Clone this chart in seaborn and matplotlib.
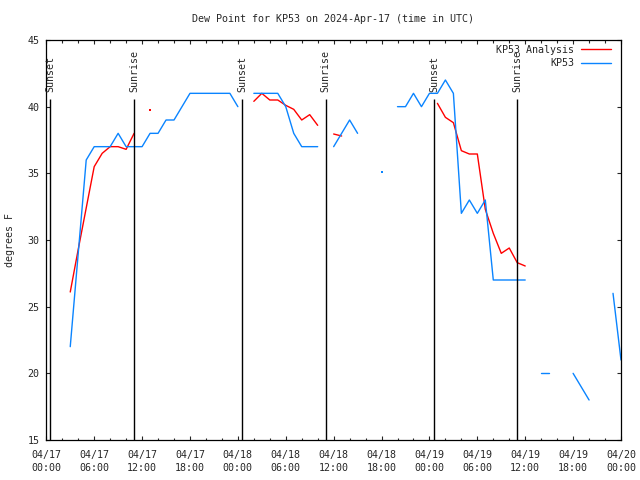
import matplotlib
matplotlib.use("Agg")
import numpy as np
import pandas as pd
import seaborn as sns
import matplotlib.pyplot as plt
import matplotlib.dates as mdates
from matplotlib.lines import Line2D

# ---------------- data (hours after 2024-04-17 00:00 UTC) ----------------
obs_hours = [3, 4, 5, 6, 7, 8, 9, 10, 11, 12, 13, 14, 15, 16, 17, 18, 19, 20, 21, 22, 23, 24,
             26, 27, 28, 29, 30, 31, 32, 33, 34,
             36, 37, 38, 39,
             42,
             44, 45, 46, 47, 48, 49, 50, 51, 52, 53, 54, 55, 56, 57, 58, 59, 60,
             62, 63,
             66, 67, 68,
             71, 72]
obs_dewpt = [22, 29, 36, 37, 37, 37, 38, 37, 37, 37, 38, 38, 39, 39, 40, 41, 41, 41, 41, 41, 41, 40,
             41, 41, 41, 41, 40, 38, 37, 37, 37,
             37, 38, 39, 38,
             35.1,
             40, 40, 41, 40, 41, 41, 42, 41, 32, 33, 32, 33, 27, 27, 27, 27, 27,
             20, 20,
             20, 19, 18,
             26, 21]

ana_hours = [3, 4, 5, 6, 7, 8, 9, 10, 11,
             13,
             26, 27, 28, 29, 30, 31, 32, 33, 34,
             36, 37,
             49, 50, 51, 52, 53, 54, 55, 56, 57, 58, 59, 60]
ana_dewpt = [26.1, 29.3, 32.4, 35.5, 36.5, 37.0, 37.0, 36.8, 38.0,
             39.75,
             40.4, 41.0, 40.5, 40.5, 40.1, 39.8, 39.0, 39.4, 38.6,
             37.95, 37.8,
             40.25, 39.2, 38.8, 36.7, 36.45, 36.45, 32.3, 30.5, 29.0, 29.4, 28.3, 28.05]

sun_labels = ["Sunset", "Sunrise", "Sunset", "Sunrise", "Sunset", "Sunrise"]
sun_times = ["2024-04-17 00:31", "2024-04-17 11:01", "2024-04-18 00:33",
             "2024-04-18 11:00", "2024-04-19 00:35", "2024-04-19 10:59"]

title = "Dew Point for KP53 on 2024-Apr-17 (time in UTC)"
ylabel = "degrees F"
series_names = ["KP53 Analysis", "KP53"]
series_colors = ["#ff0000", "#0a84ff"]
y_ticks = [15, 20, 25, 30, 35, 40, 45]

start = pd.Timestamp("2024-04-17 00:00")
end = pd.Timestamp("2024-04-20 00:00")

# ---------------- style ----------------
sns.set_style("ticks")
plt.rcParams["font.family"] = ["DejaVu Sans Mono", "DejaVu Sans"]
fs = 7.2


def make_frame(hours, vals):
    df = pd.DataFrame({"hour": hours, "value": vals})
    df["seg"] = (df["hour"].diff() != 1).cumsum()
    df["time"] = start + pd.to_timedelta(df["hour"], unit="h")
    return df


fig = plt.figure(figsize=(6.4, 4.8), dpi=100)
ax = fig.add_axes([46.3 / 640, 1 - 440 / 480, 574.7 / 640, 400 / 480])

frames = [make_frame(ana_hours, ana_dewpt), make_frame(obs_hours, obs_dewpt)]
for df, col in zip(frames, series_colors):
    counts = df.groupby("seg")["hour"].transform("size")
    lines = df[counts > 1]
    single = df[counts == 1]
    sns.lineplot(data=lines, x="time", y="value", units="seg", estimator=None,
                 color=col, lw=1.0, ax=ax, legend=False)
    if len(single):
        sns.scatterplot(data=single, x="time", y="value", color=col, s=2,
                        marker="s", linewidth=0, ax=ax, legend=False)

# sunrise / sunset lines
for lab, t in zip(sun_labels, sun_times):
    tt = pd.Timestamp(t)
    ax.vlines(tt, 15, 40.57, color="black", lw=1.0)
    ax.text(tt, 41.1, lab, rotation=90, ha="center", va="bottom", fontsize=fs)

ax.set_xlim(start, end)
ax.set_ylim(15, 45)
ax.set_yticks(y_ticks)
ax.xaxis.set_major_locator(mdates.HourLocator(byhour=[0, 6, 12, 18]))
ax.xaxis.set_minor_locator(mdates.HourLocator(byhour=range(0, 24, 2)))
ax.xaxis.set_major_formatter(mdates.DateFormatter("%m/%d\n%H:%M"))
ax.set_xlabel("")
ax.set_ylabel("")
for spine in ax.spines.values():
    spine.set_visible(True)
    spine.set_linewidth(0.9)
    spine.set_color("black")
ax.tick_params(which="major", direction="in", length=3.2, width=0.8,
               top=True, right=True, labelsize=fs, pad=5)
ax.tick_params(which="minor", direction="in", length=1.8, width=0.8,
               top=True, right=False, left=False)
ax.tick_params(axis="x", which="major", pad=7)
for lbl in ax.get_xticklabels():
    lbl.set_linespacing(1.45)

handles = [Line2D([], [], color=c, lw=1.0) for c in series_colors]
ax.legend(handles, series_names, loc="upper right",
          bbox_to_anchor=(0.986, 0.9925), frameon=False,
          markerfirst=False, fontsize=fs, handlelength=3.0, handletextpad=0.7,
          borderaxespad=0.0, borderpad=0.2, labelspacing=0.35)

fig.text(333 / 640, 1 - 19 / 480, title, ha="center", va="center", fontsize=fs)
fig.text(10 / 640, 0.5, ylabel, rotation=90, ha="center", va="center", fontsize=fs)

fig.savefig("out.png", dpi=100)
